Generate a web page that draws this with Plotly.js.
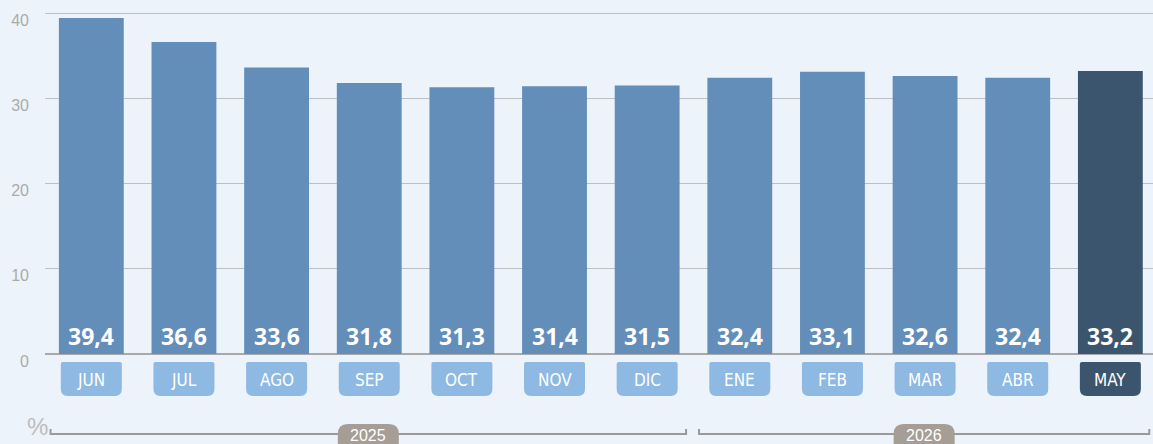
<!DOCTYPE html>
<html><head><meta charset="utf-8">
<script src="https://cdn.plot.ly/plotly-3.0.1.min.js"></script>
<style>html,body{margin:0;padding:0;background:#EDF3FA;}#chart{width:1153px;height:444px;}</style>
</head><body><div id="chart"></div>
<script>
const months = ['JUN','JUL','AGO','SEP','OCT','NOV','DIC','ENE','FEB','MAR','ABR','MAY'];
const values = [39.4, 36.6, 33.6, 31.8, 31.3, 31.4, 31.5, 32.4, 33.1, 32.6, 32.4, 33.2];
const years = ['2025', '2026'];
const yearFirst = [0, 7];
const yearLast = [6, 11];
const yTicks = [0, 10, 20, 30, 40];

const BAR = '#628EB9', BAR_LAST = '#3B556F', BOX = '#8EB9E3', PILL = '#A69D97';
const idx = months.map((m, i) => i);
const last = months.length - 1;
const fmt = v => v.toFixed(1).replace('.', ',');

const shapes = [], annotations = [];
const boxPath = 'M -28.5,-8 L 28.5,-8 Q 30.5,-8 30.5,-10 L 30.5,-35 Q 30.5,-42 23.5,-42 L -23.5,-42 Q -30.5,-42 -30.5,-35 L -30.5,-10 Q -30.5,-8 -28.5,-8 Z';
idx.forEach(i => {
  shapes.push({type:'path', xref:'x', yref:'paper', xsizemode:'pixel', ysizemode:'pixel',
    xanchor:i, yanchor:0, path:boxPath, fillcolor: i === last ? BAR_LAST : BOX, line:{width:0}, layer:'above'});
  annotations.push({xref:'x', yref:'paper', x:i, y:0, yshift:-26, yanchor:'middle', showarrow:false, text:months[i],
    font:{family:'DejaVu Sans Condensed, sans-serif', size:17, color:'#ffffff'}});
  annotations.push({xref:'x', yref:'y', x:i, y:0, yshift:18, yanchor:'middle', showarrow:false, text:fmt(values[i]),
    font:{family:'Open Sans, sans-serif', size:23, color:'#ffffff', weight:700}});
});
const pillPath = 'M -20.5,-70 L 20.5,-70 Q 30.5,-70 30.5,-80 L 30.5,-90 Q 30.5,-100 20.5,-100 L -20.5,-100 Q -30.5,-100 -30.5,-90 L -30.5,-80 Q -30.5,-70 -20.5,-70 Z';
years.forEach((y, k) => {
  const a = yearFirst[k] - 0.44, b = yearLast[k] + 0.42;
  shapes.push({type:'path', xref:'x', yref:'paper', ysizemode:'pixel', yanchor:0,
    path:`M ${a},-75 L ${a},-80 L ${b},-80 L ${b},-75`, line:{color:'#9a9a9a', width:2}, layer:'above'});
  const c = (a + b) / 2;
  shapes.push({type:'path', xref:'x', yref:'paper', xsizemode:'pixel', ysizemode:'pixel', xanchor:c, yanchor:0,
    path:pillPath, fillcolor:PILL, line:{width:0}, layer:'above'});
  annotations.push({xref:'x', yref:'paper', x:c, y:0, yshift:-81, yanchor:'middle', showarrow:false, text:y,
    font:{family:'Liberation Sans, sans-serif', size:16, color:'#ffffff'}});
});
annotations.push({xref:'paper', yref:'paper', x:0, y:0, xshift:-20, yshift:-72, yanchor:'middle', showarrow:false, text:'%',
  font:{family:'Liberation Sans, sans-serif', size:24, color:'#bdbdbd'}});

const trace = {
  type:'bar', x: idx, y: values, width: 0.70,
  marker:{color: idx.map(i => i === last ? BAR_LAST : BAR), line:{width:0}},
  hoverinfo:'skip'
};
const layout = {
  width:1153, height:444,
  margin:{l:45, r:0, t:6, b:90},
  paper_bgcolor:'#EDF3FA', plot_bgcolor:'#EDF3FA',
  showlegend:false,
  xaxis:{range:[-0.5, -0.5 + 1108/92.64], showticklabels:false, showgrid:false, zeroline:false, showline:false, ticks:'', fixedrange:true},
  yaxis:{range:[0, 348/8.525], tickvals:yTicks, ticktext:yTicks.map(String), showgrid:true, gridcolor:'#BDBFC3', gridwidth:1,
    zeroline:true, zerolinecolor:'#A9A9A9', zerolinewidth:2, showline:false, ticks:'',
    ticklabelstandoff:15, ticklabelshift:7,
    tickfont:{family:'Liberation Sans, sans-serif', size:16, color:'#ABABAB'}, fixedrange:true},
  shapes, annotations,
  bargap:0.3
};
Plotly.newPlot('chart', [trace], layout, {displayModeBar:false, staticPlot:true});
</script></body></html>
